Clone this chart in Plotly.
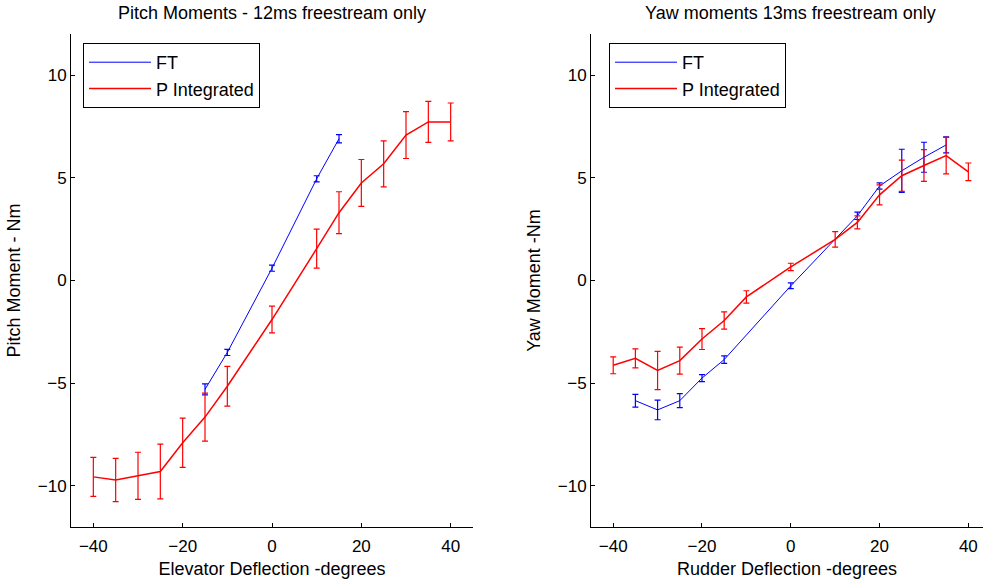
import plotly.graph_objects as go

# ---- data ----
pitch_ft_x = [-15, -10, 0, 10, 15]
pitch_ft_y = [-5.3, -3.5, 0.6, 4.95, 6.9]
pitch_ft_err = [0.27, 0.15, 0.15, 0.15, 0.2]

pitch_p_x = [-40, -35, -30, -25, -20, -15, -10, 0, 10, 15, 20, 25, 30, 35, 40]
pitch_p_y = [-9.56, -9.71, -9.51, -9.3, -7.9, -6.65, -5.15, -1.9, 1.55, 3.3, 4.75, 5.68, 7.08, 7.72, 7.72]
pitch_p_err = [0.95, 1.05, 1.15, 1.33, 1.2, 1.17, 0.97, 0.65, 0.95, 1.02, 1.14, 1.12, 1.14, 1.0, 0.92]

yaw_ft_x = [-35, -30, -25, -20, -15, 0, 15, 20, 25, 30, 35]
yaw_ft_y = [-5.85, -6.3, -5.85, -4.75, -3.85, -0.26, 3.15, 4.6, 5.34, 6.0, 6.6]
yaw_ft_err = [0.31, 0.48, 0.34, 0.17, 0.18, 0.14, 0.18, 0.15, 1.05, 0.73, 0.39]

yaw_p_x = [-40, -35, -30, -25, -20, -15, -10, 0, 10, 15, 20, 25, 30, 35, 40]
yaw_p_y = [-4.13, -3.79, -4.38, -3.9, -2.85, -1.95, -0.8, 0.66, 2.0, 2.83, 4.17, 5.1, 5.6, 6.08, 5.29]
yaw_p_err = [0.41, 0.46, 0.93, 0.66, 0.51, 0.42, 0.3, 0.18, 0.38, 0.32, 0.49, 0.76, 0.77, 0.89, 0.43]

x_ticks = [-40, -20, 0, 20, 40]
y_ticks = [-10, -5, 0, 5, 10]

titles = ["Pitch Moments - 12ms freestream only", "Yaw moments 13ms freestream only"]
x_titles = ["Elevator Deflection -degrees", "Rudder Deflection -degrees"]
y_titles = ["Pitch Moment - Nm", "Yaw Moment -Nm"]
series_names = ["FT", "P Integrated"]

BLUE = "#0000FF"
RED = "#FF0000"
FONT = "Liberation Sans, Arial, sans-serif"

W, H = 983, 584
ML, MR, MT, MB = 71, 0, 34, 57
PW = W - ML - MR
PH = H - MT - MB

def px_x(p):
    return min(1.0, max(0.0, (p - ML) / PW))

def px_y(p):
    return 1 - (p - MT) / PH

fig = go.Figure()

def add(x, y, e, name, color, width, xa, ya, leg):
    fig.add_trace(go.Scatter(
        x=x, y=y, mode="lines", name=name,
        line=dict(color=color, width=width),
        error_y=dict(type="data", array=e, visible=True, color=color, thickness=1.2, width=3),
        xaxis=xa, yaxis=ya, legend=leg,
    ))

add(pitch_ft_x, pitch_ft_y, pitch_ft_err, series_names[0], BLUE, 1, "x", "y", "legend")
add(pitch_p_x, pitch_p_y, pitch_p_err, series_names[1], RED, 1.5, "x", "y", "legend")
add(yaw_ft_x, yaw_ft_y, yaw_ft_err, series_names[0], BLUE, 1, "x2", "y2", "legend2")
add(yaw_p_x, yaw_p_y, yaw_p_err, series_names[1], RED, 1.5, "x2", "y2", "legend2")

axis_common = dict(
    showgrid=False, zeroline=False, showline=True, linecolor="black", linewidth=1,
    ticks="inside", ticklen=4, tickcolor="black",
    tickfont=dict(family=FONT, size=17, color="black"),
    title_font=dict(family=FONT, size=18, color="black"),
    mirror=False,
)

fig.update_layout(
    width=W, height=H,
    margin=dict(l=ML, r=MR, t=MT, b=MB),
    paper_bgcolor="white", plot_bgcolor="white",
    font=dict(family=FONT, size=16, color="black"),
    xaxis=dict(domain=[px_x(71), px_x(473)], range=[-45, 45], tickvals=x_ticks,
               ticklabelstandoff=4,
               title=dict(text=x_titles[0], standoff=6), anchor="y", **axis_common),
    yaxis=dict(domain=[0, 1], range=[-12, 12], tickvals=y_ticks,
               title=dict(text=y_titles[0], standoff=12), anchor="x", **axis_common),
    xaxis2=dict(domain=[px_x(591), 1], range=[-45, 43.3], tickvals=x_ticks,
                ticklabelstandoff=4,
                title=dict(text=x_titles[1], standoff=6), anchor="y2", **axis_common),
    yaxis2=dict(domain=[0, 1], range=[-12, 12], tickvals=y_ticks,
                title=dict(text=y_titles[1], standoff=12), anchor="x2", **axis_common),
    legend=dict(x=px_x(83), y=px_y(43), xanchor="left", yanchor="top",
                bordercolor="black", borderwidth=1, bgcolor="white",
                font=dict(family=FONT, size=18, color="black"), itemwidth=62,
                tracegroupgap=0),
    legend2=dict(x=px_x(609), y=px_y(43), xanchor="left", yanchor="top",
                 bordercolor="black", borderwidth=1, bgcolor="white",
                 font=dict(family=FONT, size=18, color="black"), itemwidth=62,
                 tracegroupgap=0),
    showlegend=True,
)

for i, cx in enumerate([272, 790]):
    fig.add_annotation(text=titles[i], x=px_x(cx), y=px_y(13), xref="paper", yref="paper",
                       showarrow=False, xanchor="center", yanchor="middle",
                       font=dict(family=FONT, size=18, color="black"))

fig.write_html("out.html", config={"displayModeBar": False},
               post_script="document.body.style.margin='0';")
